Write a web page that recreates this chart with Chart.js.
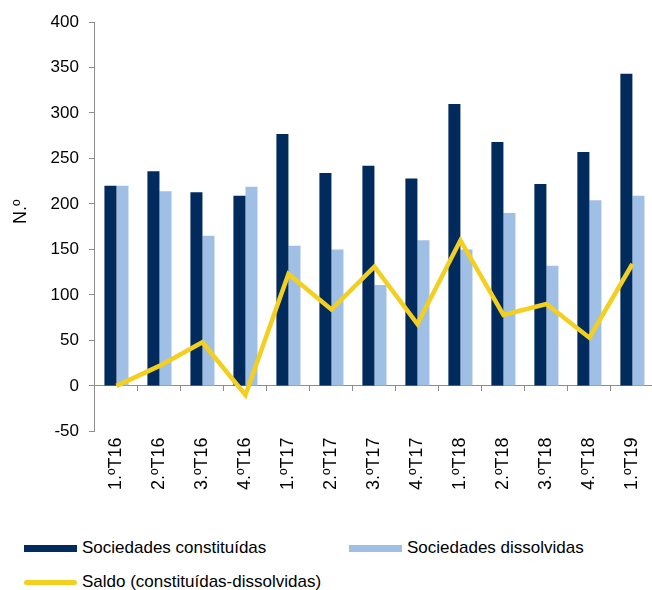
<!DOCTYPE html>
<html>
<head>
<meta charset="utf-8">
<script src="https://cdn.jsdelivr.net/npm/chart.js@4"></script>
<style>
  html, body { margin: 0; padding: 0; background: #fff; overflow: hidden; }
  body { width: 652px; height: 590px; position: relative; }
  #wrap { position: absolute; left: 0; top: 0; width: 660px; height: 500px; }
  #legend {
    position: absolute; left: 24px; top: 536px;
    display: grid; grid-template-columns: 325px 300px; row-gap: 10px;
    font-family: 'Liberation Sans', Arial, sans-serif; font-size: 17px; color: #000;
  }
  .item { display: flex; align-items: center; height: 24px; white-space: nowrap; }
  .swatch { width: 53px; margin-right: 5px; }
</style>
</head>
<body>
<div id="wrap"><canvas id="chart"></canvas></div>
<div id="legend"></div>
<script>
// quarters
const labels = ['1.ºT16', '2.ºT16', '3.ºT16', '4.ºT16', '1.ºT17', '2.ºT17', '3.ºT17',
  '4.ºT17', '1.ºT18', '2.ºT18', '3.ºT18', '4.ºT18', '1.ºT19'];
const constituidas = [220, 236, 213, 209, 277, 234, 242, 228, 310, 268, 222, 257, 343];
const dissolvidas = [220, 214, 165, 219, 154, 150, 111, 160, 150, 190, 132, 204, 209];
const saldo = [0, 22, 48, -10, 123, 84, 131, 68, 160, 78, 90, 53, 134];
const yTicks = [-50, 0, 50, 100, 150, 200, 250, 300, 350, 400];

const font = "'Liberation Sans', Arial, sans-serif";
const axisGrey = '#8c8c8c';

const chart = new Chart(document.getElementById('chart'), {
  type: 'bar',
  data: {
    labels: labels,
    datasets: [
      {
        type: 'line',
        label: 'Saldo (constituídas-dissolvidas)',
        data: saldo,
        borderColor: '#F3D01F',
        backgroundColor: '#F3D01F',
        borderWidth: 4.5,
        pointRadius: 0,
        tension: 0,
        borderJoinStyle: 'miter',
        order: 0
      },
      {
        label: 'Sociedades constituídas',
        data: constituidas,
        backgroundColor: '#002B5C',
        categoryPercentage: 0.56,
        barPercentage: 1,
        order: 1
      },
      {
        label: 'Sociedades dissolvidas',
        data: dissolvidas,
        backgroundColor: '#A0BFE4',
        categoryPercentage: 0.56,
        barPercentage: 1,
        order: 1
      }
    ]
  },
  options: {
    responsive: true,
    maintainAspectRatio: false,
    animation: false,
    events: [],
    layout: { padding: { top: 22, right: 0, bottom: 4, left: 0 } },
    plugins: {
      legend: { display: false },
      tooltip: { enabled: false }
    },
    scales: {
      x: {
        position: 'bottom',
        grid: { display: false, drawTicks: false },
        border: { display: false },
        ticks: {
          minRotation: 90,
          maxRotation: 90,
          padding: 6,
          color: '#000',
          font: { family: font, size: 18 }
        }
      },
      x0: {
        type: 'category',
        position: { y: 0 },
        grid: { display: true, drawOnChartArea: false, drawTicks: true, tickLength: 5, offset: true, color: axisGrey },
        border: { display: true, color: axisGrey, width: 1 },
        ticks: { display: false }
      },
      y: {
        min: -50,
        max: 400,
        afterBuildTicks: axis => { axis.ticks = yTicks.map(v => ({ value: v })); },
        grid: { drawOnChartArea: false, drawTicks: true, tickLength: 6, color: axisGrey },
        border: { display: true, color: axisGrey, width: 1 },
        ticks: {
          padding: 10,
          color: '#000',
          font: { family: font, size: 17 }
        },
        title: {
          display: true,
          text: '      N.º',
          color: '#000',
          padding: { top: 10, bottom: 9 },
          font: { family: font, size: 18 }
        }
      }
    }
  }
});

// legend built from the chart datasets
const legend = document.getElementById('legend');
[1, 2, 0].forEach(i => {
  const ds = chart.data.datasets[i];
  const item = document.createElement('div');
  item.className = 'item';
  const sw = document.createElement('span');
  sw.className = 'swatch';
  if (ds.type === 'line') {
    sw.style.height = '5px';
    sw.style.borderRadius = '3px';
    sw.style.background = ds.borderColor;
  } else {
    sw.style.height = '7px';
    sw.style.background = ds.backgroundColor;
  }
  item.appendChild(sw);
  item.appendChild(document.createTextNode(ds.label));
  legend.appendChild(item);
});
</script>
</body>
</html>
